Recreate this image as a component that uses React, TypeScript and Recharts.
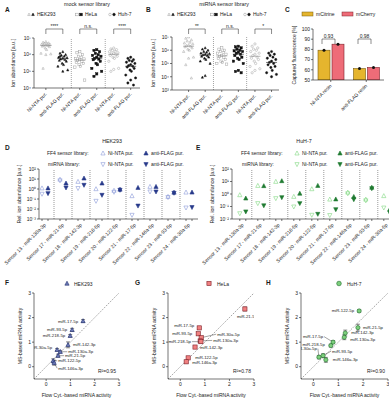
import React from "react";
import { Bar, BarChart, ErrorBar, ReferenceLine, Scatter, ScatterChart, XAxis, YAxis } from "recharts";

const FONT = "'Liberation Sans', Arial, sans-serif";
const INK = "#1a1a1a";

// ---------- A / B : ion abundance per purification ----------
const purifications = ["Ni-NTA pur.", "anti-FLAG pur.", "Ni-NTA pur.", "anti-FLAG pur.", "Ni-NTA pur.", "anti-FLAG pur."];
const cellLines = ["HEK293", "HeLa", "Huh-7"];

const mockHekNi = [6e6, 5.5e6, 5e6, 4.8e6, 4.5e6, 4.2e6, 4e6, 3.8e6, 3.6e6, 3.5e6, 3.2e6, 3e6, 2.5e6, 2e6, 1.2e6, 1.1e6, 1e6, 1.5e5];
const mockHekFlag = [1.5e6, 1.2e6, 1e6, 9e5, 8e5, 7e5, 6.5e5, 6e5, 5.5e5, 5e5, 4.5e5, 4e5, 3e5, 2.5e5, 2e5, 1.2e5, 1e5, 8e5];
const mockHelaNi = [1.5e6, 1.3e6, 1e6, 8e5, 7e5, 6e5, 5.5e5, 5e5, 4.5e5, 4e5, 3.5e5, 3e5, 2.5e5, 2e5, 1.8e5, 3e4];
const mockHelaFlag = [2e6, 1.8e6, 1.5e6, 1.2e6, 1e6, 9e5, 8e5, 7e5, 6e5, 5.5e5, 5e5, 4e5, 3e5, 2.5e5, 1.5e5, 1e5, 7e4, 5e4];
const mockHuhNi = [2.5e6, 2.2e6, 2e6, 1.8e6, 1.6e6, 1.5e6, 1.3e6, 1.2e6, 1.1e6, 1e6, 9e5, 8e5, 7e5, 6e5, 4e5, 1.5e5, 1.3e5, 1e5];
const mockHuhFlag = [7e5, 6e5, 5e5, 4.5e5, 4e5, 3.5e5, 3e5, 2.5e5, 2.2e5, 2e5, 1.8e5, 1.5e5, 1.2e5, 1e5, 6e4, 4e4, 3e4, 2e4, 1.5e4];
const mockSig = ["****", "n.s.", "****"];

const mirHekNi = [1e7, 8e6, 6e6, 5e6, 4e6, 3.5e6, 3e6, 2.5e6, 2.2e6, 2e6, 1.8e6, 1.5e6, 1.2e6, 1e6, 8e5, 3e5, 2.5e5, 8e4, 8e3];
const mirHekFlag = [1.5e6, 1.2e6, 1e6, 8e5, 7e5, 6e5, 5.5e5, 5e5, 4.5e5, 4e5, 3.5e5, 3e5, 2.5e5, 2e5, 1.5e5, 1e5, 1.2e4, 9e3];
const mirHelaNi = [1.5e6, 1.2e6, 1e6, 8e5, 7e5, 6e5, 5e5, 4e5, 3.5e5, 3e5, 2.5e5, 2e5, 1.5e5, 1.2e5, 1e5, 9e4];
const mirHelaFlag = [2e6, 1.8e6, 1.5e6, 1.2e6, 1e6, 9e5, 8e5, 7e5, 6e5, 5e5, 4e5, 3e5, 2.5e5, 2e5, 1.5e5, 1e5, 3e4, 2.5e4, 2e4];
const mirHuhNi = [3e6, 2e6, 1.5e6, 1.2e6, 1e6, 8e5, 6e5, 5e5, 4e5, 3e5, 2.5e5, 2e5, 1.5e5, 1e5, 6e4, 4e4, 3e4, 2e4];
const mirHuhFlag = [8e5, 6e5, 5e5, 4e5, 3e5, 2.5e5, 2e5, 1.5e5, 1.2e5, 1e5, 8e4, 6e4, 5e4, 3e4, 2e4, 1.5e4, 1e4];
const mirSig = ["**", "n.s.", "*"];

// ---------- C : captured fluorescence ----------
const resins = ["Ni-NTA resin", "anti-FLAG resin"];
const citrine = [79.2, 61.2];
const cherry = [85.1, 62.3];
const resinP = ["0.93", "0.98"];

// ---------- D / E : relative ion abundance per sensor ----------
const sensors = [
  "Sensor 13 - miR-130a-3p", "Sensor 17 - miR-21-5p", "Sensor 18 - miR-142-3p",
  "Sensor 19 - miR-218-5p", "Sensor 20 - miR-122-5p", "Sensor 21 - miR-17-5p",
  "Sensor 22 - miR-146a-5p", "Sensor 23 - miR-93-5p", "Sensor 24 - miR-30a-5p",
];
const hekFf4Ni = [1.2, 9, 5.4, 1.0, 0.7, 0.2, 1.7, 0.17, 0.46];
const hekFf4Flag = [1.2, 3.7, 11.7, 3.7, 0.9, 1.35, 1.7, 0.45, 0.46];
const hekMirNi = [0.32, 7, 1.2, 0.063, 0.5, 0.0025, 0.54, 0.15, 0.0135];
const hekMirFlag = [0.37, 1.35, 2.5, 0.25, 0.8, 0.021, 0.54, 0.4, 0.015];

const huhFf4Ni = [0.83, 4.6, 9.7, 0.61, 2.5, 0.37, 1.35, 0.37, 0.7];
const huhFf4Flag = [0.45, 4.4, 11, 1.1, 4.6, 0.38, 0.6, 3.3, 0.06];
const huhMirNi = [0.028, 0.18, 0.45, 0.097, 0.021, 0.02, 1.1, 0.3, 0.08];
const huhMirFlag = [0.039, 0.12, 0.54, 0.18, 0.025, 0.059, 0.37, 2.8, 0.032];

// ---------- F / G / H : MS vs flow cytometry ----------
const fMirs = ["miR-17-5p", "miR-93-5p", "miR-218-5p", "miR-142-3p", "miR-30a-5p", "miR-130a-3p", "miR-21-5p", "miR-122-5p", "miR-146a-3p"];
const fFlow = [1.52, 1.07, 0.99, 0.9, 0.45, 0.58, 0.49, 0.29, 0.33];
const fMs = [1.86, 1.5, 1.26, 0.89, 0.69, 0.61, 0.45, 0.24, 0.16];
const fErr = [0.06, 0.06, 0.05, 0.12, 0.05, 0.05, 0.06, 0.08, 0.1];

const gMirs = ["miR-21-5p", "miR-17-5p", "miR-93-5p", "miR-30a-5p", "miR-130a-3p", "miR-218-5p", "miR-142-3p", "miR-122-5p", "miR-146a-3p"];
const gFlow = [2.63, 0.77, 0.73, 0.85, 0.81, 0.84, 0.6, 0.32, 0.24];
const gMs = [2.35, 1.58, 1.34, 1.18, 1.05, 1.02, 0.8, 0.36, 0.2];
const gErr = [0.08, 0.05, 0.05, 0.05, 0.05, 0.05, 0.05, 0.05, 0.05];

const hMirs = ["miR-122-5p", "miR-21-5p", "miR-142-3p", "miR-130a-3p", "miR-17-5p", "miR-218-5p", "miR-93-5p", "miR-30a-5p", "miR-146a-3p"];
const hFlow = [1.84, 1.79, 1.28, 1.24, 0.79, 0.7, 0.39, 0.22, 0.5];
const hMs = [2.27, 1.59, 1.37, 1.2, 1.0, 0.86, 0.45, 0.39, 0.28];
const hErr = [0.05, 0.14, 0.12, 0.1, 0.06, 0.06, 0.08, 0.07, 0.1];

const rSquared = ["0.95", "0.78", "0.90"];

// label placement for the correlation plots: [dx, dy, anchor, leader]
const fLabelPos: any = {
  "miR-17-5p": [-5, 1.5, "end"], "miR-93-5p": [-5, 1.5, "end"], "miR-218-5p": [-5, 1.5, "end"],
  "miR-142-3p": [5, 1, "start"], "miR-30a-5p": [-5, -1, "end"], "miR-130a-3p": [8, 1.5, "start", 1],
  "miR-21-5p": [7, 1.5, "start", 1], "miR-122-5p": [5, 1.5, "start", 1], "miR-146a-3p": [4, 7, "start", 1],
};
const gLabelPos: any = {
  "miR-21-5p": [-8, 9, "start"], "miR-17-5p": [-5, -1, "end"], "miR-93-5p": [-6, 1, "end"],
  "miR-30a-5p": [16, -2, "start", 1], "miR-130a-3p": [13, 1, "start", 1], "miR-218-5p": [-10, 1.5, "end", 1],
  "miR-142-3p": [5, 1.5, "start"], "miR-122-5p": [7, 1, "start"], "miR-146a-3p": [6, 2.5, "start"],
};
const hLabelPos: any = {
  "miR-122-5p": [-5, 1.5, "end"], "miR-21-5p": [5, 1.5, "start"], "miR-17-5p": [-10, -4, "end", 1],
  "miR-218-5p": [-6, 0, "end"], "miR-142-3p": [6, 1, "start"], "miR-130a-3p": [6, 4, "start"],
  "miR-30a-5p": [-2, -7, "end", 1], "miR-93-5p": [9, -3, "start", 1], "miR-146a-3p": [7, 1.5, "start"],
};

const SUP: any = { "-": "⁻", "0": "⁰", "1": "¹", "2": "²", "3": "³", "4": "⁴", "5": "⁵", "6": "⁶", "7": "⁷", "8": "⁸", "9": "⁹" };
const pow10 = (v: number) => "10" + String(Math.round(Math.log10(v))).split("").map((c) => SUP[c]).join("");
const median = (v: number[]) => {
  const s = [...v].sort((a, b) => a - b);
  return s.length % 2 ? s[(s.length - 1) / 2] : (s[s.length / 2 - 1] + s[s.length / 2]) / 2;
};
const JIT = [0, -2.8, 2.8, -1.4, 1.4, -4.2, 4.2, 0, -2.1, 2.1, -3.5, 3.5, -0.7, 0.7, -4.9, 4.9];

const axisStyle = {
  axisLine: { stroke: INK, strokeWidth: 0.6 },
  tickLine: { stroke: INK, strokeWidth: 0.6 },
  tickSize: 2,
  tickMargin: 1,
};
const tickFont = { fontSize: 5, fill: INK, fontFamily: FONT };

function frame(g: any, pad: number[], yw: number, xh: number) {
  const [l, t, r, b] = pad;
  return {
    style: { position: "absolute" as const, left: g.x0 - l, top: g.y0 - t },
    width: g.x1 - g.x0 + l + r,
    height: g.y1 - g.y0 + t + b,
    margin: { left: l - yw, top: t, right: r, bottom: b - xh },
  };
}
const xpx = (g: any, v: number) => g.x0 + ((v - g.xDom[0]) / (g.xDom[1] - g.xDom[0])) * (g.x1 - g.x0);

function Glyph({ kind, x, y, s, fill, stroke, sw = 0.5 }: any) {
  const h = s / 2;
  const common = { fill, stroke, strokeWidth: sw };
  if (kind === "tri") return <polygon points={`${x},${y - h * 1.1} ${x - h},${y + h * 0.8} ${x + h},${y + h * 0.8}`} {...common} />;
  if (kind === "dtri") return <polygon points={`${x},${y + h * 1.1} ${x - h},${y - h * 0.8} ${x + h},${y - h * 0.8}`} {...common} />;
  if (kind === "sq") return <rect x={x - h} y={y - h} width={s} height={s} {...common} />;
  return <circle cx={x} cy={y} r={h} {...common} />;
}

function RotTick({ x, y, label, dx = 0, fs = 5 }: any) {
  if (!label) return null;
  const tx = x + dx;
  const ty = y + 2;
  return (
    <text x={tx} y={ty} dy="0.35em" transform={`rotate(-45 ${tx} ${ty})`} textAnchor="end" fontSize={fs} fontFamily={FONT} fill={INK}>
      {label}
    </text>
  );
}

const swarmMarks = [
  { kind: "tri", fill: "none", stroke: "#9a9a9a" },
  { kind: "tri", fill: "#111", stroke: "#111" },
  { kind: "sq", fill: "none", stroke: "#9a9a9a" },
  { kind: "sq", fill: "#111", stroke: "#111" },
  { kind: "circ", fill: "none", stroke: "#9a9a9a" },
  { kind: "circ", fill: "#111", stroke: "#111" },
];

const geoA = { x0: 34, x1: 140, y0: 38, y1: 88, xDom: [0.3, 6.55] };
const geoB = { x0: 172, x1: 279, y0: 37, y1: 90, xDom: [0, 6.45] };
const geoC = { x0: 313, x1: 384, y0: 29, y1: 80 };
const geoD = { x0: 39, x1: 198, y0: 169, y1: 219, xDom: [0.5, 27] };
const geoE = { x0: 232, x1: 394, y0: 169, y1: 219, xDom: [-0.3, 26.7] };
const geoF = { x0: 34, x1: 119, y0: 293, y1: 379, xDom: [-0.5, 3] };
const geoG = { x0: 168, x1: 254, y0: 293, y1: 379, xDom: [-0.5, 3] };
const geoH = { x0: 301, x1: 388, y0: 293, y1: 379, xDom: [-0.5, 3] };

function SwarmPanel({ cols, geo, yDom, yTicks }: any) {
  const f = frame(geo, [34, 4, 6, 42], 20, 40);
  const series = cols.map((vals: number[], c: number) => vals.map((y, i) => ({ x: c + 1, y, i })));
  const medians = cols.map((vals: number[], c: number) => ({ x: c + 1, y: median(vals), c }));
  return (
    <div style={f.style}>
      <ScatterChart width={f.width} height={f.height} margin={f.margin}>
        <XAxis
          type="number" dataKey="x" domain={geo.xDom} ticks={[1, 2, 3, 4, 5, 6]} interval={0} allowDataOverflow height={40}
          {...axisStyle}
          tick={(p: any) => <RotTick {...p} label={purifications[p.payload.value - 1]} />}
        />
        <YAxis
          type="number" dataKey="y" scale="log" domain={yDom} ticks={yTicks} interval={0} allowDataOverflow width={20}
          {...axisStyle} tick={tickFont} tickFormatter={pow10}
        />
        <ReferenceLine x={2.5} stroke="#666" strokeWidth={0.6} strokeDasharray="1 1" />
        <ReferenceLine x={4.5} stroke="#666" strokeWidth={0.6} strokeDasharray="1 1" />
        {series.map((d: any[], c: number) => (
          <Scatter
            key={c} data={d} isAnimationActive={false}
            shape={(p: any) => (
              <Glyph {...swarmMarks[c]} x={p.cx + JIT[p.payload.i % JIT.length]} y={p.cy} s={2.3} sw={0.45} />
            )}
          />
        ))}
        <Scatter
          data={medians} isAnimationActive={false}
          shape={(p: any) => <line x1={p.cx - 5.5} x2={p.cx + 5.5} y1={p.cy} y2={p.cy} stroke={p.payload.c % 2 ? "#222" : "#888"} strokeWidth={0.6} />}
        />
      </ScatterChart>
    </div>
  );
}

function ResinPanel() {
  const f = frame(geoC, [22, 4, 5, 36], 16, 34);
  const data = resins.map((resin, i) => ({ resin, citrine: citrine[i], cherry: cherry[i] }));
  const barShape = (fill: string, stroke: string) => (p: any) => (
    <g>
      <rect x={p.x} y={p.y} width={p.width} height={p.height} fill={fill} stroke={stroke} strokeWidth={0.6} />
      <circle cx={p.x + p.width / 2} cy={p.y} r={1.5} fill="#111" />
    </g>
  );
  return (
    <div style={f.style}>
      <BarChart width={f.width} height={f.height} margin={f.margin} data={data} barCategoryGap={5} barGap={2}>
        <XAxis
          dataKey="resin" height={34} interval={0} {...axisStyle}
          tick={(p: any) => <RotTick {...p} label={p.payload.value} />}
        />
        <YAxis type="number" domain={[50, 100]} ticks={[50, 60, 70, 80, 90, 100]} interval={0} allowDataOverflow width={16} {...axisStyle} tick={tickFont} />
        <Bar dataKey="citrine" isAnimationActive={false} shape={barShape("#e5b52e", "#7a5c0c")} />
        <Bar dataKey="cherry" isAnimationActive={false} shape={barShape("#ee6c78", "#7e2029")} />
      </BarChart>
    </div>
  );
}

function SensorPanel({ ff4Ni, ff4Flag, mirNi, mirFlag, light, dark, geo, yDom, yTicks }: any) {
  const f = frame(geo, [39, 4, 4, 52], 20, 50);
  const rows = (vals: number[], off: number) => vals.map((y, g) => ({ x: 3 * g + off, y }));
  const ticks = sensors.flatMap((_, g) => [3 * g + 1, 3 * g + 2]);
  const seps = sensors.slice(1).map((_, g) => 3 * g + 3);
  const sets = [
    { d: rows(ff4Ni, 1), kind: "tri", fill: "none", stroke: light },
    { d: rows(mirNi, 1), kind: "dtri", fill: "none", stroke: light },
    { d: rows(ff4Flag, 2), kind: "tri", fill: dark, stroke: dark },
    { d: rows(mirFlag, 2), kind: "dtri", fill: dark, stroke: dark },
  ];
  return (
    <div style={f.style}>
      <ScatterChart width={f.width} height={f.height} margin={f.margin}>
        <XAxis
          type="number" dataKey="x" domain={geo.xDom} ticks={ticks} interval={0} allowDataOverflow height={50}
          {...axisStyle}
          tick={(p: any) => <RotTick {...p} dx={3} label={p.payload.value % 3 === 1 ? sensors[(p.payload.value - 1) / 3] : ""} />}
        />
        <YAxis
          type="number" dataKey="y" scale="log" domain={yDom} ticks={yTicks} interval={0} allowDataOverflow width={20}
          {...axisStyle} tick={tickFont} tickFormatter={pow10}
        />
        {seps.map((s) => (
          <ReferenceLine key={s} x={s} stroke="#555" strokeWidth={0.6} strokeDasharray="1 1" />
        ))}
        {sets.map((s, k) => (
          <Scatter
            key={k} data={s.d} isAnimationActive={false}
            shape={(p: any) => <Glyph kind={s.kind} x={p.cx} y={p.cy} s={4.2} fill={s.fill} stroke={s.stroke} sw={0.6} />}
          />
        ))}
      </ScatterChart>
    </div>
  );
}

function CorrPanel({ names, flow, ms, err, mark, labelPos, geo }: any) {
  const f = frame(geo, [14, 4, 4, 12], 12, 10);
  const data = names.map((name: string, i: number) => ({ name, x: flow[i], y: ms[i], err: err[i] }));
  return (
    <div style={f.style}>
      <ScatterChart width={f.width} height={f.height} margin={f.margin}>
        <XAxis type="number" dataKey="x" domain={[-0.5, 3]} ticks={[0, 1, 2, 3]} interval={0} allowDataOverflow height={10} {...axisStyle} tick={tickFont} />
        <YAxis type="number" dataKey="y" domain={[-0.5, 3]} ticks={[0, 1, 2, 3]} interval={0} allowDataOverflow width={12} {...axisStyle} tick={tickFont} />
        <ReferenceLine segment={[{ x: -0.5, y: -0.5 }, { x: 3, y: 3 }]} stroke="#666" strokeWidth={0.6} strokeDasharray="1.5 1.2" />
        <Scatter
          data={data} isAnimationActive={false}
          shape={(p: any) => {
            const [dx, dy, anchor, leader] = labelPos[p.payload.name];
            return (
              <g>
                {leader ? (
                  <line x1={p.cx} y1={p.cy} x2={p.cx + dx + (anchor === "end" ? 1 : -1)} y2={p.cy + dy - 1.5} stroke={INK} strokeWidth={0.4} />
                ) : null}
                <Glyph {...mark} x={p.cx} y={p.cy} s={4.2} sw={0.6} />
                <text x={p.cx + dx} y={p.cy + dy} textAnchor={anchor} fontSize={4.3} fontFamily={FONT} fill={INK}>
                  {p.payload.name}
                </text>
              </g>
            );
          }}
        >
          <ErrorBar dataKey="err" direction="y" width={2} stroke={INK} strokeWidth={0.5} />
        </Scatter>
      </ScatterChart>
    </div>
  );
}

function T({ x, y, children, fs = 5, anchor = "start", bold = false, rot = false }: any) {
  return (
    <text
      x={x} y={y} fontSize={fs} textAnchor={anchor} fontWeight={bold ? 700 : 400} fill={INK} fontFamily={FONT}
      transform={rot ? `rotate(-90 ${x} ${y})` : undefined}
    >
      {children}
    </text>
  );
}

function Bracket({ x1, x2, y, label }: any) {
  return (
    <g>
      <path d={`M${x1},${y + 5} V${y} H${x2} V${y + 5}`} fill="none" stroke={INK} strokeWidth={0.5} />
      <T x={(x1 + x2) / 2} y={y - 1.5} anchor="middle" fs={5}>{label}</T>
    </g>
  );
}

function Overlay() {
  const legendAB = (xs: number[]) =>
    cellLines.map((name, k) => (
      <g key={name}>
        <Glyph {...swarmMarks[2 * k]} x={xs[k]} y={14.5} s={2.6} />
        <Glyph {...swarmMarks[2 * k + 1]} x={xs[k] + 4} y={14.5} s={2.6} />
        <T x={xs[k] + 8} y={16.3}>{name}</T>
      </g>
    ));
  const sensorLegend = (x: number, light: string, dark: string) => (
    <g>
      <T x={x} y={155}>FF4 sensor library:</T>
      <Glyph kind="tri" x={x + 56} y={153.3} s={4.2} fill="none" stroke={light} sw={0.6} />
      <T x={x + 61} y={155}>Ni-NTA pur.</T>
      <Glyph kind="tri" x={x + 99} y={153.3} s={4.2} fill={dark} stroke={dark} sw={0.6} />
      <T x={x + 104} y={155}>anti-FLAG pur.</T>
      <T x={x + 1} y={166}>miRNA library:</T>
      <Glyph kind="dtri" x={x + 56} y={164.3} s={4.2} fill="none" stroke={light} sw={0.6} />
      <T x={x + 61} y={166}>Ni-NTA pur.</T>
      <Glyph kind="dtri" x={x + 99} y={164.3} s={4.2} fill={dark} stroke={dark} sw={0.6} />
      <T x={x + 104} y={166}>anti-FLAG pur.</T>
    </g>
  );
  return (
    <svg width={389} height={400} style={{ position: "absolute", left: 0, top: 0, pointerEvents: "none" }}>
      {/* panel letters */}
      <T x={5} y={12} bold fs={6.5}>A</T>
      <T x={146} y={12} bold fs={6.5}>B</T>
      <T x={285} y={12} bold fs={6.5}>C</T>
      <T x={5} y={150} bold fs={6.5}>D</T>
      <T x={196} y={150} bold fs={6.5}>E</T>
      <T x={5} y={285} bold fs={6.5}>F</T>
      <T x={135} y={285} bold fs={6.5}>G</T>
      <T x={266} y={285} bold fs={6.5}>H</T>

      {/* A / B */}
      <T x={87} y={6} anchor="middle" fs={5.3}>mock sensor library</T>
      <T x={224} y={6} anchor="middle" fs={5.3}>miRNA sensor library</T>
      {legendAB([29, 77, 110])}
      {legendAB([169, 212, 245])}
      {mockSig.map((s, k) => (
        <Bracket key={"a" + k} x1={xpx(geoA, 2 * k + 1)} x2={xpx(geoA, 2 * k + 2)} y={29} label={s} />
      ))}
      {mirSig.map((s, k) => (
        <Bracket key={"b" + k} x1={xpx(geoB, 2 * k + 1)} x2={xpx(geoB, 2 * k + 2)} y={29} label={s} />
      ))}
      <T x={15} y={63} anchor="middle" rot fs={5.3}>Ion abundance [a.u.]</T>
      <T x={155} y={63} anchor="middle" rot fs={5.3}>Ion abundance [a.u.]</T>

      {/* C */}
      <rect x={302} y={12} width={11} height={4} fill="#e5b52e" stroke="#7a5c0c" strokeWidth={0.5} />
      <T x={316} y={16}>mCitrine</T>
      <rect x={342} y={12} width={11} height={4} fill="#ee6c78" stroke="#7e2029" strokeWidth={0.5} />
      <T x={356} y={16}>mCherry</T>
      <Bracket x1={322} x2={335} y={39} label={resinP[0]} />
      <Bracket x1={358} x2={371} y={39} label={resinP[1]} />
      <T x={296} y={55} anchor="middle" rot fs={5}>Captured fluorescence [%]</T>

      {/* D / E */}
      <T x={112} y={143} anchor="middle" fs={5.3}>HEK293</T>
      <T x={304} y={143} anchor="middle" fs={5.3}>HuH-7</T>
      {sensorLegend(47, "#8c9ad8", "#27398a")}
      {sensorLegend(241, "#7fd67f", "#1f7a30")}
      <T x={21} y={194} anchor="middle" rot fs={5.3}>Rel. ion abundance [a.u.]</T>
      <T x={214} y={194} anchor="middle" rot fs={5.3}>Rel. ion abundance [a.u.]</T>

      {/* F / G / H */}
      <Glyph kind="tri" x={67} y={283.5} s={4.2} fill="#6d7bb8" stroke="#1c2a6a" sw={0.6} />
      <T x={74} y={285.5}>HEK293</T>
      <Glyph kind="sq" x={209} y={283.5} s={4.2} fill="#f08080" stroke="#7e2029" sw={0.6} />
      <T x={217} y={285.5}>HeLa</T>
      <Glyph kind="circ" x={339} y={283.5} s={4.6} fill="#7ccf7c" stroke="#1f6a2a" sw={0.6} />
      <T x={347} y={285.5}>HuH-7</T>
      {[geoF, geoG, geoH].map((g, k) => (
        <g key={k}>
          <T x={g.x0 - 12} y={336} anchor="middle" rot fs={5}>MS-based miRNA activity</T>
          <T x={(g.x0 + g.x1) / 2} y={397} anchor="middle" fs={5}>Flow Cyt.-based miRNA activity</T>
          <T x={g.x1 - 21} y={373}>R²={rSquared[k]}</T>
        </g>
      ))}
    </svg>
  );
}

export default function App() {
  return (
    <div style={{ position: "absolute", left: 0, top: 0, width: 389, height: 400, overflow: "hidden", background: "#fff", fontFamily: FONT }}>
      <SwarmPanel cols={[mockHekNi, mockHekFlag, mockHelaNi, mockHelaFlag, mockHuhNi, mockHuhFlag]} geo={geoA} yDom={[1e4, 1e7]} yTicks={[1e4, 1e5, 1e6, 1e7]} />
      <SwarmPanel cols={[mirHekNi, mirHekFlag, mirHelaNi, mirHelaFlag, mirHuhNi, mirHuhFlag]} geo={geoB} yDom={[1e3, 1e7]} yTicks={[1e3, 1e4, 1e5, 1e6, 1e7]} />
      <ResinPanel />
      <SensorPanel ff4Ni={hekFf4Ni} ff4Flag={hekFf4Flag} mirNi={hekMirNi} mirFlag={hekMirFlag} light="#8c9ad8" dark="#27398a" geo={geoD} yDom={[1e-3, 1e2]} yTicks={[1e-3, 1e-2, 1e-1, 1, 10, 100]} />
      <SensorPanel ff4Ni={huhFf4Ni} ff4Flag={huhFf4Flag} mirNi={huhMirNi} mirFlag={huhMirFlag} light="#7fd67f" dark="#1f7a30" geo={geoE} yDom={[1e-2, 1e2]} yTicks={[1e-2, 1e-1, 1, 10, 100]} />
      <CorrPanel names={fMirs} flow={fFlow} ms={fMs} err={fErr} mark={{ kind: "tri", fill: "#6d7bb8", stroke: "#1c2a6a" }} labelPos={fLabelPos} geo={geoF} />
      <CorrPanel names={gMirs} flow={gFlow} ms={gMs} err={gErr} mark={{ kind: "sq", fill: "#f08080", stroke: "#7e2029" }} labelPos={gLabelPos} geo={geoG} />
      <CorrPanel names={hMirs} flow={hFlow} ms={hMs} err={hErr} mark={{ kind: "circ", fill: "#7ccf7c", stroke: "#1f6a2a" }} labelPos={hLabelPos} geo={geoH} />
      <Overlay />
    </div>
  );
}
